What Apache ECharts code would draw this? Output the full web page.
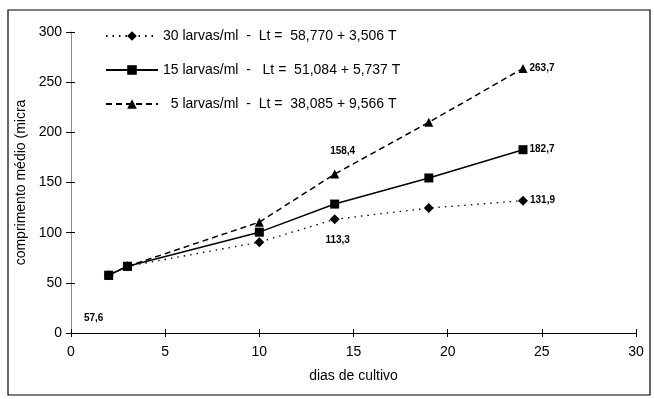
<!DOCTYPE html>
<html lang="pt">
<head>
    <meta charset="UTF-8">
    <title>comprimento médio</title>
    <script src="https://cdn.jsdelivr.net/npm/echarts@6/dist/echarts.min.js"></script>
    <style>
        *{margin:0;padding:0;}
        #main{width:654px;height:399px;background:#fff;}
    </style>
</head>
<body>
    <div id="main"></div>
    <script>
        // dias de cultivo
        var days = [2, 3, 10, 14, 19, 24]
        // comprimento médio por densidade
        var s30 = [57.6, 66.5, 90.5, 113.3, 124.5, 131.9]
        var s15 = [57.6, 66.5, 100.5, 128.5, 154.5, 182.7]
        var s5 = [57.6, 66.5, 110.5, 158.4, 210.0, 263.7]
        var names = ['30 larvas/ml', '15 larvas/ml', '5 larvas/ml']
        var legendText = [
            '30 larvas/ml  -  Lt =  58,770 + 3,506 T',
            '15 larvas/ml  -   Lt =  51,084 + 5,737 T',
            '  5 larvas/ml  -  Lt =  38,085 + 9,566 T'
        ]
        // pontos com rótulo: [índice, posição]
        var lab30 = [[0, 'bottomLeft'], [3, 'bottom'], [5, 'right']]
        var lab15 = [[5, 'right']]
        var lab5 = [[3, 'top'], [5, 'right']]

        function fmt(v){ return v.toFixed(1).replace('.', ',') }

        var offsets = {bottomLeft: [-15, 43], bottom: [3, 21], top: [8, -23], right: [-3, 0]}

        function build(vals, labs){
            var out = []
            for (var i = 0; i < vals.length; i++){
                var d = {value: [days[i], vals[i]]}
                for (var j = 0; j < labs.length; j++){
                    if (labs[j][0] === i){
                        var p = labs[j][1]
                        d.label = {
                            show: true,
                            position: p === 'right' ? 'right' : 'inside',
                            offset: offsets[p],
                            formatter: function(x){ return fmt(x.value[1]) },
                            color: '#000', fontSize: 10, fontWeight: 'bold',
                            fontFamily: 'Liberation Sans'
                        }
                    }
                }
                out.push(d)
            }
            return out
        }

        var chart = echarts.init(document.getElementById('main'))
        var axisFont = {color: '#000', fontSize: 14, fontFamily: 'Liberation Sans'}
        var option = {
            animation: false,
            textStyle: {fontFamily: 'Liberation Sans'},
            graphic: [{
                type: 'rect',
                shape: {x: 8, y: 10, width: 642, height: 385},
                style: {fill: 'none', stroke: '#000', lineWidth: 1.2},
                silent: true
            }],
            grid: {left: 71, right: 18, top: 32, bottom: 66},
            legend: {
                orient: 'vertical',
                left: 100, top: 24,
                itemWidth: 52, itemHeight: 12, itemGap: 20,
                formatter: function(n){ return legendText[names.indexOf(n)] },
                textStyle: {color: '#000', fontSize: 14, fontFamily: 'Liberation Sans'},
                data: names
            },
            xAxis: [{
                type: 'value', min: 0, max: 30, interval: 5,
                name: 'dias de cultivo', nameLocation: 'middle', nameGap: 36,
                nameTextStyle: {color: '#000', fontSize: 14, fontFamily: 'Liberation Sans'},
                axisLine: {lineStyle: {color: '#000', width: 1.2}},
                axisTick: {length: 4, lineStyle: {color: '#000'}},
                axisLabel: Object.assign({margin: 12}, axisFont),
                splitLine: {show: false}
            }, {
                type: 'value', min: 0, max: 30, interval: 5, position: 'bottom',
                axisLine: {show: false}, axisLabel: {show: false},
                axisTick: {inside: true, length: 4, lineStyle: {color: '#000'}},
                splitLine: {show: false}
            }],
            yAxis: [{
                type: 'value', min: 0, max: 300, interval: 50,
                name: 'comprimento médio (micra', nameLocation: 'middle', nameGap: 43,
                nameTextStyle: {color: '#000', fontSize: 14, fontFamily: 'Liberation Sans'},
                axisLine: {show: true, lineStyle: {color: '#888', width: 1}},
                axisTick: {show: true, length: 5, lineStyle: {color: '#000'}},
                axisLabel: Object.assign({margin: 9}, axisFont),
                splitLine: {show: false}
            }, {
                type: 'value', min: 0, max: 300, interval: 50, position: 'left',
                axisLine: {show: false}, axisLabel: {show: false},
                axisTick: {show: true, inside: true, length: 4, lineStyle: {color: '#000'}},
                splitLine: {show: false}
            }],
            series: [{
                name: names[0], type: 'line', data: build(s30, lab30),
                symbol: 'diamond', symbolSize: 10,
                itemStyle: {color: '#000'},
                lineStyle: {color: '#000', width: 1.3, type: [1.5, 5]}
            }, {
                name: names[1], type: 'line', data: build(s15, lab15),
                symbol: 'rect', symbolSize: 9,
                itemStyle: {color: '#000'},
                lineStyle: {color: '#000', width: 1.5, type: 'solid'}
            }, {
                name: names[2], type: 'line', data: build(s5, lab5),
                symbol: 'triangle', symbolSize: 9,
                itemStyle: {color: '#000'},
                lineStyle: {color: '#000', width: 1.5, type: [6, 4]}
            }]
        }
        chart.setOption(option)
    </script>
</body>
</html>
